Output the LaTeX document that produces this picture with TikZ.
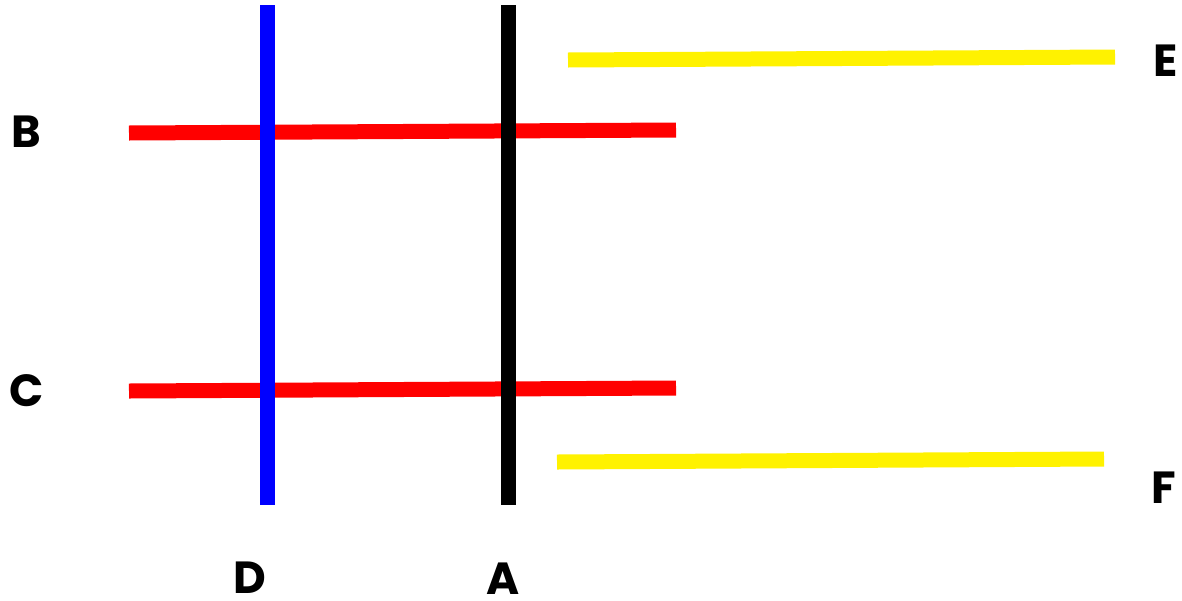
\documentclass[tikz,border=0pt]{standalone}
\usepackage{fontspec}
\setmainfont{Poppins}
\begin{document}
\begin{tikzpicture}[x=1pt,y=-1pt,
  bar/.style={line width=15pt},
  lbl/.style={font=\fontsize{45}{45}\selectfont\bfseries, text=black, inner sep=0pt, anchor=base}]
\useasboundingbox[fill=white] (0,0) rectangle (1182,600);
% coordinates
\coordinate (b1) at (129,133); \coordinate (b2) at (676,130);
\coordinate (c1) at (129,391); \coordinate (c2) at (676,388);
\coordinate (e1) at (568,60);  \coordinate (e2) at (1115,57);
\coordinate (f1) at (557,462); \coordinate (f2) at (1104,459);
\coordinate (d1) at (267,5);   \coordinate (d2) at (267,505);
\coordinate (a1) at (508,5);   \coordinate (a2) at (508,505);
% lines
\draw[bar, red] (b1) -- (b2);
\draw[bar, red] (c1) -- (c2);
\draw[bar, yellow] (e1) -- (e2);
\draw[bar, yellow] (f1) -- (f2);
\draw[bar, blue] (d1) -- (d2);
\draw[bar, black] (a1) -- (a2);
% labels
\node[lbl] (B) at (26,147) {B};
\node[lbl] (C) at (27,406) {C};
\node[lbl] (D) at (250,593) {D};
\node[lbl] (A) at (503,594) {A};
\node[lbl] (E) at (1166,76) {E};
\node[lbl] (F) at (1164,503) {F};
\end{tikzpicture}
\end{document}
